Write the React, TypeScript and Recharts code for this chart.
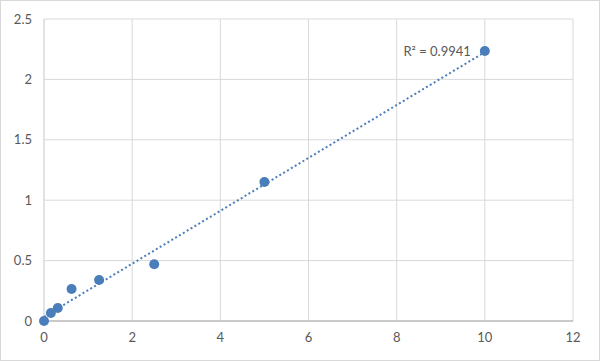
import React from 'react';
import {
  ComposedChart,
  Scatter,
  Line,
  XAxis,
  YAxis,
  CartesianGrid,
  ReferenceDot,
} from 'recharts';

const concentrations = [0, 0.156, 0.3125, 0.625, 1.25, 2.5, 5, 10];
const absorbances = [0, 0.066, 0.108, 0.265, 0.34, 0.47, 1.15, 2.235];
const xTicks = [0, 2, 4, 6, 8, 10, 12];
const yTicks = [0, 0.5, 1, 1.5, 2, 2.5];
const r2Label = 'R² = 0.9941';

const points = concentrations.map((x, i) => ({ x, y: absorbances[i] }));

// linear least-squares trendline from the data
const n = concentrations.length;
const mx = concentrations.reduce((a, b) => a + b, 0) / n;
const my = absorbances.reduce((a, b) => a + b, 0) / n;
let sxy = 0;
let sxx = 0;
concentrations.forEach((x, i) => {
  sxy += (x - mx) * (absorbances[i] - my);
  sxx += (x - mx) * (x - mx);
});
const slope = sxy / sxx;
const intercept = my - slope * mx;
const xMin = Math.min(...concentrations);
const xMax = Math.max(...concentrations);
const trend = [
  { x: xMin, t: intercept + slope * xMin },
  { x: xMax, t: intercept + slope * xMax },
];

const COLOR = '#4a7ebb';
const FONT = 'Lato, "Open Sans", sans-serif';
const tickStyle = { fill: '#595959', fontSize: 13, fontFamily: FONT };

export default function App() {
  return (
    <div
      style={{
        position: 'absolute',
        left: 0,
        top: 0,
        width: 600,
        height: 361,
        border: '1px solid #d9d9d9',
        boxSizing: 'border-box',
        background: '#fff',
      }}
    >
      <ComposedChart
        width={598}
        height={359}
        margin={{ top: 18, right: 26, bottom: 9, left: 0 }}
      >
        <CartesianGrid stroke="#d9d9d9" strokeWidth={1} />
        <XAxis
          type="number"
          dataKey="x"
          domain={[0, 12]}
          ticks={xTicks}
          height={30}
          tickLine={false}
          axisLine={{ stroke: '#bfbfbf', strokeWidth: 1.5 }}
          tick={tickStyle}
          tickMargin={6}
        />
        <YAxis
          type="number"
          domain={[0, 2.5]}
          ticks={yTicks}
          width={43}
          tickLine={false}
          axisLine={{ stroke: '#d9d9d9' }}
          tick={tickStyle}
          tickMargin={6}
        />
        <Line
          data={trend}
          dataKey="t"
          type="linear"
          stroke={COLOR}
          strokeWidth={2}
          strokeDasharray="2 2.5"
          dot={false}
          activeDot={false}
          isAnimationActive={false}
        />
        <Scatter
          data={points}
          dataKey="y"
          fill={COLOR}
          shape={(props: any) => <circle cx={props.cx} cy={props.cy} r={5} fill={COLOR} />}
          isAnimationActive={false}
        />
        <ReferenceDot
          x={xMax}
          y={absorbances[absorbances.length - 1]}
          r={0}
          stroke="none"
          label={{ value: r2Label, position: 'left', offset: 14, fill: '#595959', fontSize: 13, fontFamily: FONT }}
        />
      </ComposedChart>
    </div>
  );
}
